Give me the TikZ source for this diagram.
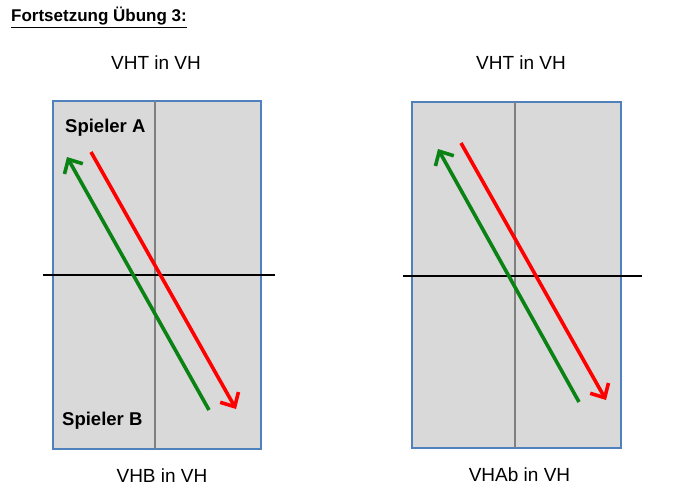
\documentclass[tikz,border=0pt]{standalone}
\usepackage{fontspec}
\setmainfont{Liberation Sans}
\usetikzlibrary{arrows.meta}
\definecolor{tablefill}{HTML}{D9D9D9}
\definecolor{tableborder}{HTML}{4F81BD}
\definecolor{midline}{HTML}{808080}
\definecolor{greenarrow}{HTML}{0A8214}
\definecolor{redarrow}{HTML}{FF0000}
\tikzset{
  tablebox/.style={draw=tableborder, fill=tablefill, line width=2pt},
  centerline/.style={draw=midline, line width=1.8pt},
  netline/.style={draw=black, line width=2pt},
  shot/.style={line width=3.6pt, -{Straight Barb[length=11pt,width=21pt]}},
  label/.style={inner sep=0pt, anchor=base, font=\fontsize{19}{23}\selectfont},
  player/.style={inner sep=0pt, anchor=base west, font=\fontsize{18.5}{22}\selectfont\bfseries},
}
\begin{document}
\begin{tikzpicture}[x=1pt,y=-1pt]
\useasboundingbox (0,0) rectangle (695,500);
% title
\node[inner sep=0pt, anchor=base west, font=\fontsize{17}{20}\selectfont\bfseries] (title) at (11,21.7) {\underline{Fortsetzung Übung 3:}};

% left table
\draw[tablebox] (53,101) rectangle (261,449);
\coordinate (lct) at (155,101);
\coordinate (lcb) at (155,449);
\draw[centerline] (lct) -- (lcb);
\coordinate (lnl) at (43,275);
\coordinate (lnr) at (275,275);
\draw[netline] (lnl) -- (lnr);
\node[label] (lt) at (156,70) {VHT in VH};
\node[label] (lb) at (162,482) {VHB in VH};
\node[player] (pa) at (65,132.7) {Spieler A};
\node[player] (pb) at (62,425.7) {Spieler B};
\coordinate (lg1) at (209,410);
\coordinate (lg2) at (67,157);
\coordinate (lr1) at (91,152);
\coordinate (lr2) at (236,409);
\draw[shot, draw=greenarrow] (lg1) -- (lg2);
\draw[shot, draw=redarrow] (lr1) -- (lr2);

% right table
\draw[tablebox] (412,102) rectangle (621,448);
\coordinate (rct) at (515,102);
\coordinate (rcb) at (515,448);
\draw[centerline] (rct) -- (rcb);
\coordinate (rnl) at (403,276);
\coordinate (rnr) at (642,276);
\draw[netline] (rnl) -- (rnr);
\node[label] (rt) at (521,70) {VHT in VH};
\node[label] (rb) at (519.5,481.7) {VHAb in VH};
\coordinate (rg1) at (579,402);
\coordinate (rg2) at (438,149);
\coordinate (rr1) at (461,143);
\coordinate (rr2) at (606,400);
\draw[shot, draw=greenarrow] (rg1) -- (rg2);
\draw[shot, draw=redarrow] (rr1) -- (rr2);
\end{tikzpicture}
\end{document}
